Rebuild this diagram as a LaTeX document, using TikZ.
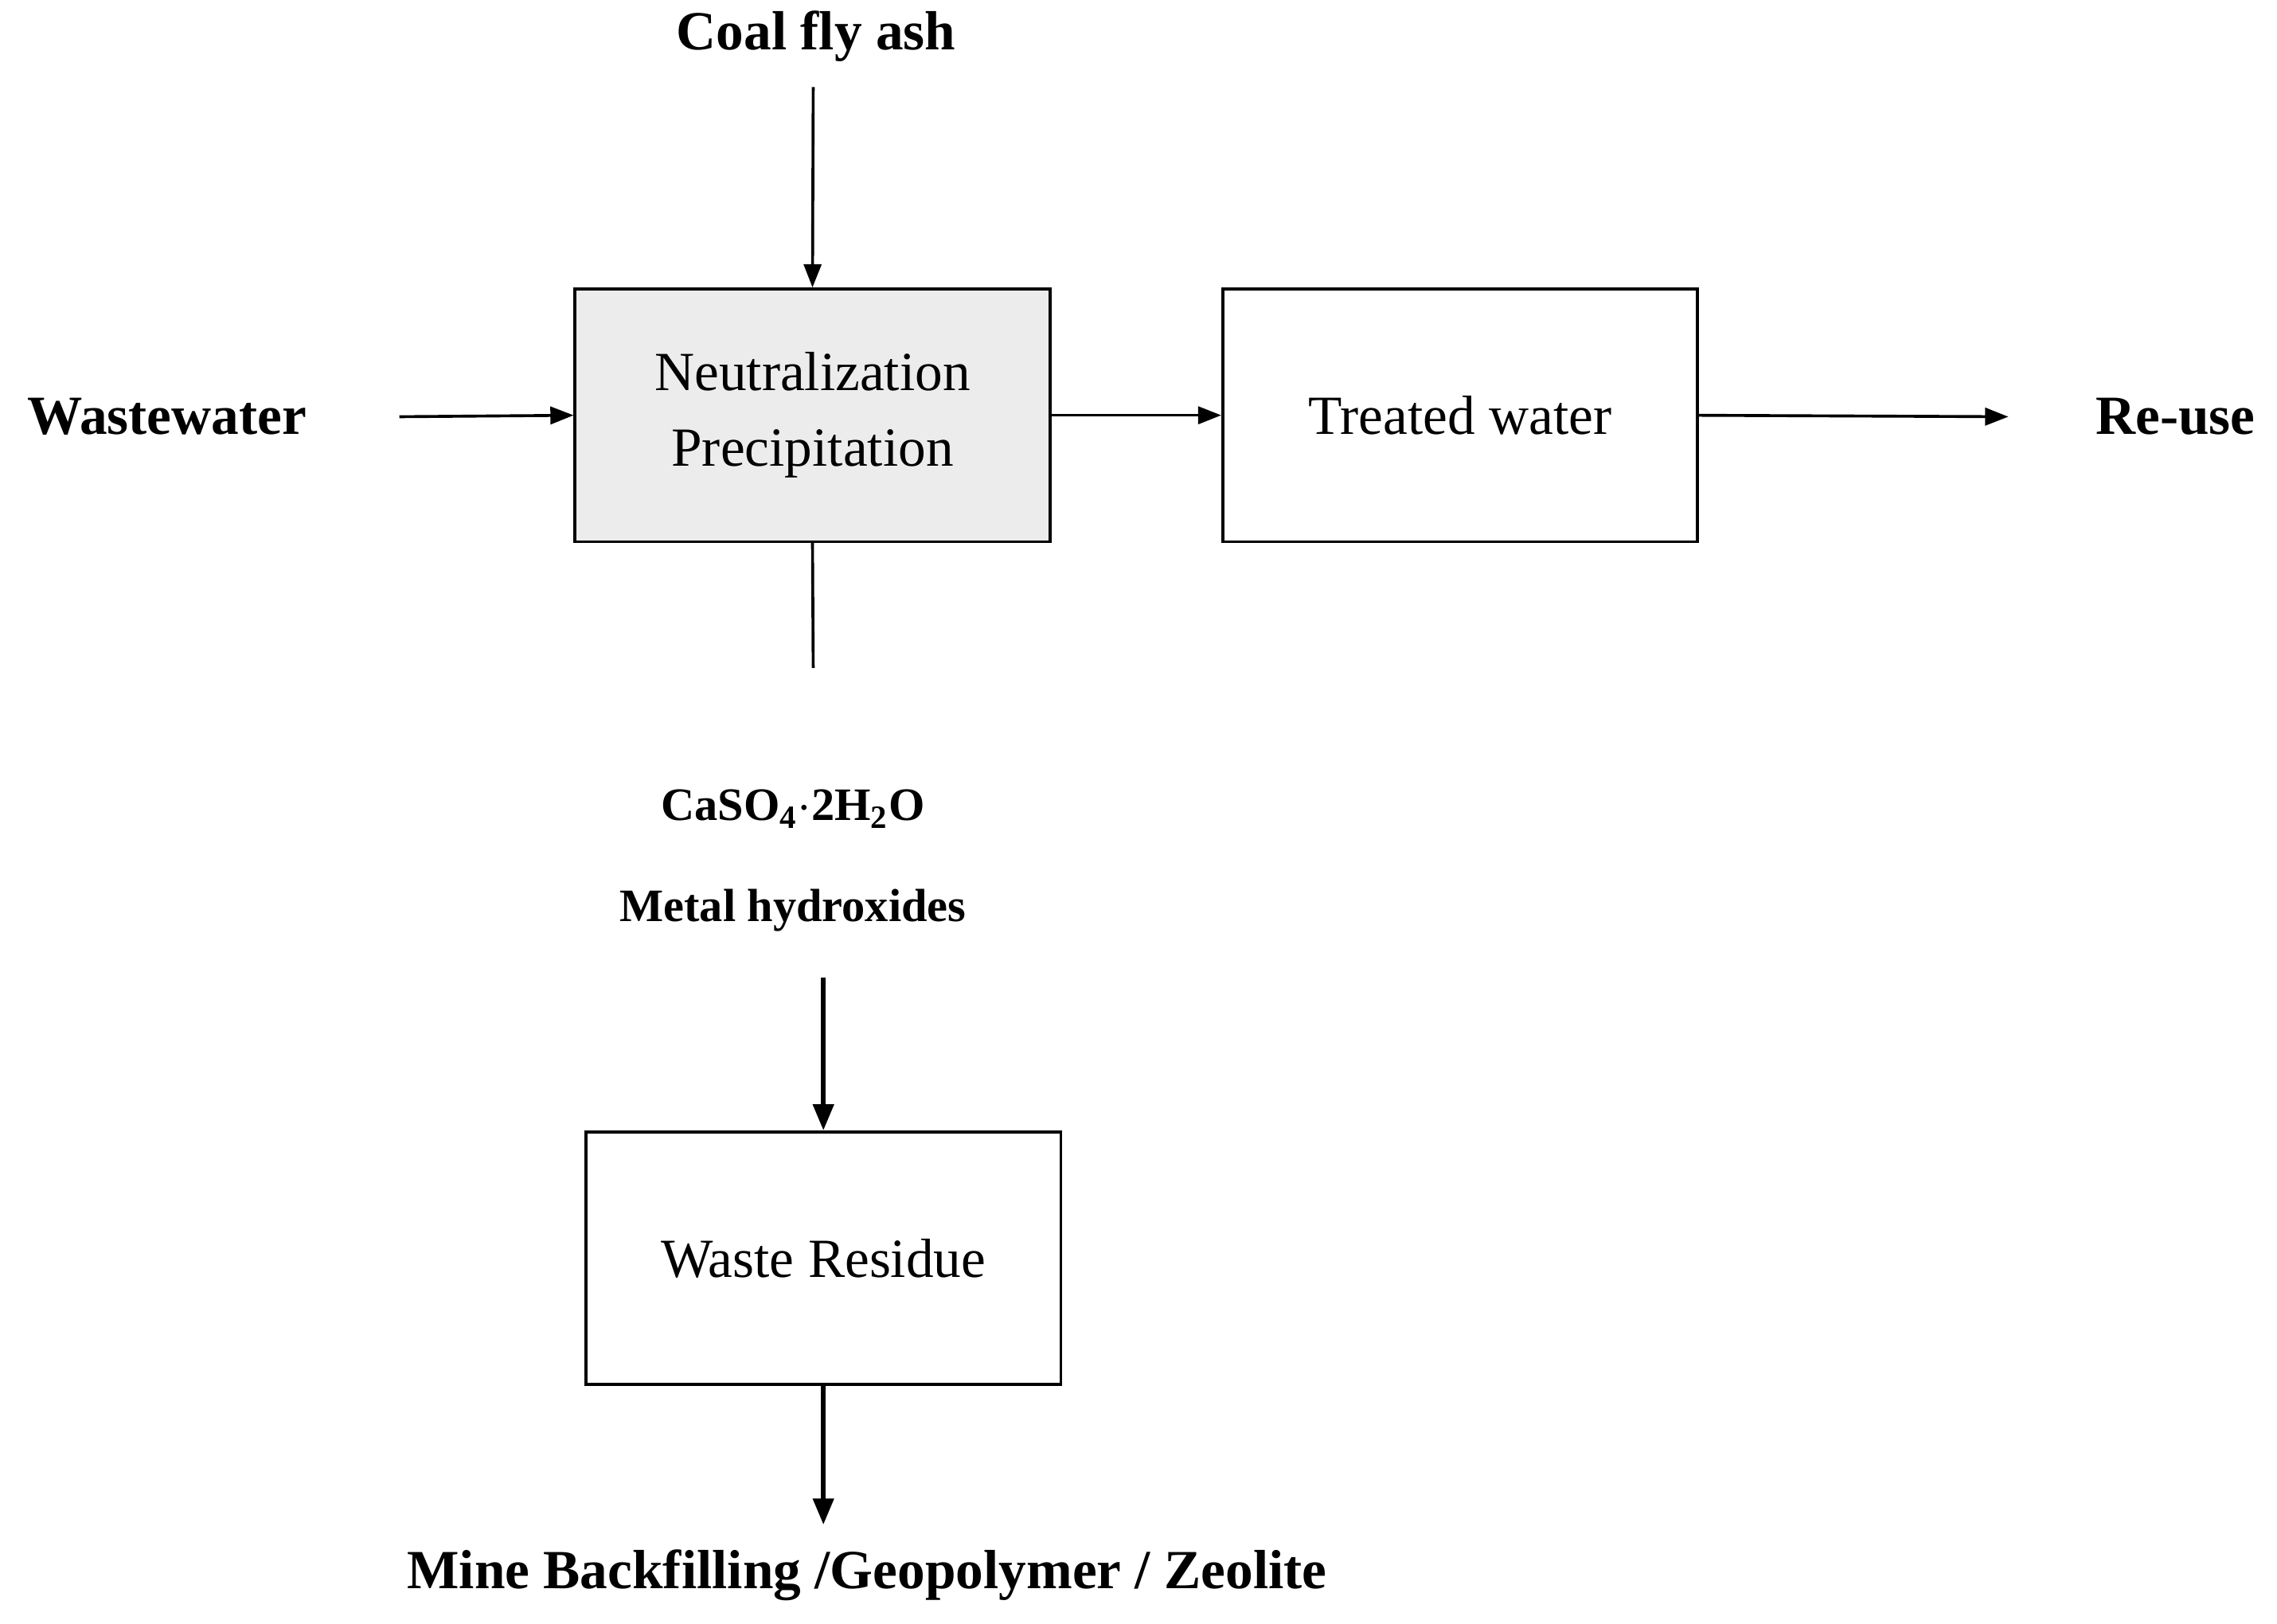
\documentclass[tikz,border=0pt]{standalone}
\usepackage{fontspec}
\setmainfont{Liberation Serif}
\usetikzlibrary{arrows.meta}
\begin{document}
\begin{tikzpicture}[x=0.5pt,y=-0.5pt,
  box/.style={draw,line width=1pt,minimum width=163.5pt,minimum height=87pt,inner sep=0pt,align=center,font=\fontsize{19}{26}\selectfont},
  lbl/.style={font=\fontsize{19}{22}\selectfont\bfseries},
  arr/.style={line width=1pt,-{Triangle[length=8pt,width=6pt]}},
  arrb/.style={line width=1.6pt,-{Triangle[length=9pt,width=7pt]}}]
\useasboundingbox (0,0) rectangle (1568,1118);
\node[box,fill=gray!15] (b1) at (559.5,286) {Neutralization\\Precipitation};
\node[box] (b2) at (1005.5,286) {Treated water};
\node[box] (b3) at (567,866.5) {Waste Residue};
\node[lbl] (coal) at (562,25) {Coal fly ash};
\node[lbl,anchor=west] (ww) at (12,287) {Wastewater};
\node[lbl,anchor=east] (re) at (1560,287) {Re-use};
\node[font=\fontsize{16}{20}\selectfont\bfseries] (ca) at (546,557) {CaSO\textsubscript{4}$\cdot$2H\textsubscript{2}O};
\node[font=\fontsize{16}{20}\selectfont\bfseries] (mh) at (546,627) {Metal hydroxides};
\node[lbl] (mine) at (597,1085) {Mine Backfilling /Geopolymer / Zeolite};
\coordinate (c1) at (560,60);
\coordinate (w1) at (275,287);
\coordinate (r1) at (1383,287);
\coordinate (d1) at (560,460);
\coordinate (m1) at (567,673);
\coordinate (m2) at (567,1050);
\draw[arr] (c1) -- (b1.north);
\draw[arr] (w1) -- (b1.west);
\draw[arr] (b1.east) -- (b2.west);
\draw[arr] (b2.east) -- (r1);
\draw[line width=1pt] (b1.south) -- (d1);
\draw[arrb] (m1) -- (b3.north);
\draw[arrb] (b3.south) -- (m2);
\end{tikzpicture}
\end{document}
